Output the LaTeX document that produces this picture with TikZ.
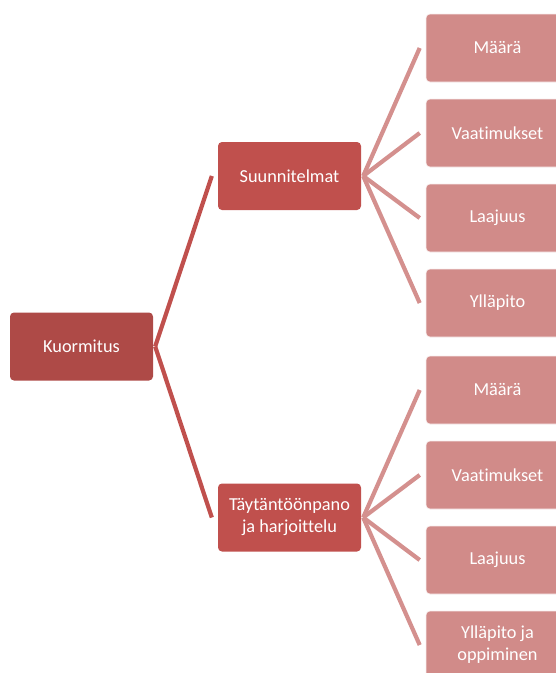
\documentclass[tikz,border=0pt]{standalone}
\usepackage{fontspec}
\setmainfont{Carlito}[Ligatures={NoCommon}]
\definecolor{rootc}{HTML}{AE4A47}
\definecolor{midc}{HTML}{C0504D}
\definecolor{leafc}{HTML}{D18B89}
\definecolor{linec1}{HTML}{C0504D}
\definecolor{linec2}{HTML}{D4908E}
\begin{document}
\begin{tikzpicture}[x=1pt,y=-1pt,
  box/.style={rectangle,rounded corners=4pt,minimum width=143pt,minimum height=68pt,
    inner sep=2pt,text=white,font=\fontsize{18.3}{22}\selectfont,align=center},
  rootbox/.style={box,fill=rootc},
  midbox/.style={box,fill=midc},
  leafbox/.style={box,fill=leafc,draw=white!85!leafc,line width=0.6pt},
  con1/.style={draw=linec1,line width=4.2pt},
  con2/.style={draw=linec2,line width=4.2pt}]
\useasboundingbox (0,0) rectangle (556,673);
\begin{scope}
\clip (0,0) rectangle (556,673);
\node[rootbox] (k) at (81.5,346.5) {Kuormitus};
\node[midbox] (s) at (289.5,176) {Suunnitelmat};
\node[midbox] (t) at (289.5,517.5) {Täytäntöönpano\\ja harjoittelu};
\node[leafbox] (s1) at (497.5,48) {Määrä};
\node[leafbox] (s2) at (497.5,133) {Vaatimukset};
\node[leafbox] (s3) at (497.5,218) {Laajuus};
\node[leafbox] (s4) at (497.5,303) {Ylläpito};
\node[leafbox] (t1) at (497.5,390) {Määrä};
\node[leafbox] (t2) at (497.5,475) {Vaatimukset};
\node[leafbox] (t3) at (497.5,560) {Laajuus};
\node[leafbox] (t4) at (497.5,645) {Ylläpito ja\\oppiminen};
\foreach \c in {s,t}
  \draw[con1] ([xshift=2pt]k.east) -- ([xshift=-6pt]\c.west);
\foreach \c in {s1,s2,s3,s4}
  \draw[con2] ([xshift=2pt]s.east) -- ([xshift=-6pt]\c.west);
\foreach \c in {t1,t2,t3,t4}
  \draw[con2] ([xshift=2pt]t.east) -- ([xshift=-6pt]\c.west);
\end{scope}
\end{tikzpicture}
\end{document}
